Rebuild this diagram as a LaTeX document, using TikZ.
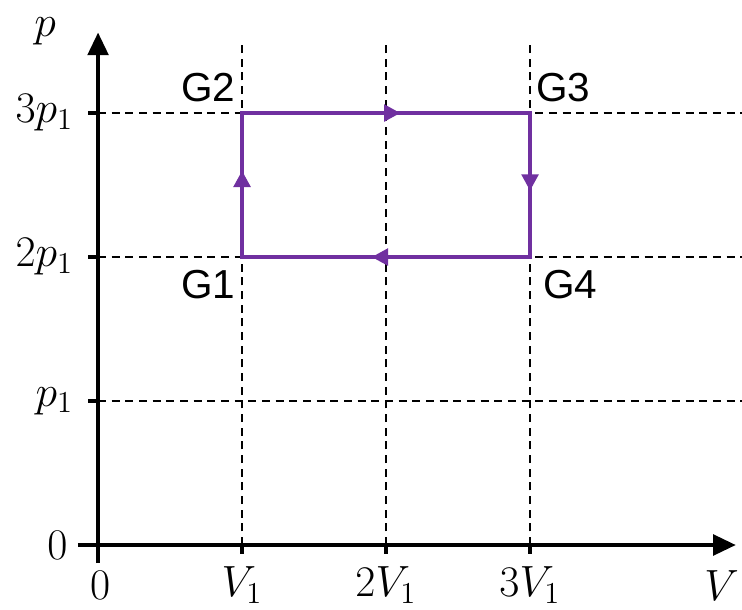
\documentclass[tikz,border=0pt]{standalone}
\usepackage{fontspec}
\setsansfont{Liberation Sans}
\usetikzlibrary{arrows.meta, decorations.markings}
\definecolor{cyclepurple}{HTML}{7030A0}

\begin{document}
\begin{tikzpicture}[
          x=2cm, y=2cm,
          axis/.style={line width=1.8pt, -{Triangle[length=9pt, width=8pt]}},
          tick/.style={line width=1.8pt},
          guide/.style={line width=0.6pt, dash pattern=on 3.2pt off 2.2pt},
          cycle/.style={line width=1.7pt, draw=cyclepurple, line cap=rect},
          midarrow/.style={postaction={decorate}, decoration={markings,
            mark=at position #1 with {\arrow[cyclepurple]{Triangle[length=6.5pt, width=6.5pt]}}}},
          ticklabel/.style={font=\fontsize{18.5}{22}\selectfont},
          statelabel/.style={font=\sffamily\fontsize{16}{19}\selectfont}
        ]
          \useasboundingbox (-0.681,-0.451) rectangle (4.472,3.785);
          % axes
          \coordinate (origin) at (0,0);
          \coordinate (xstart) at (-0.14,0);
          \coordinate (xend) at (4.43,0);
          \coordinate (ystart) at (0,-0.125);
          \coordinate (yend) at (0,3.56);
          % guide lines
          \foreach \i in {1,2,3} {
            \draw[guide] (\i,0) -- (\i,3.47);
            \draw[guide] (0,\i) -- (4.472,\i);
            \draw[tick] (\i,0) -- (\i,-0.06);
            \draw[tick] (0,\i) -- (-0.07,\i);
          }
          \draw[axis] (xstart) -- (xend);
          \draw[axis] (ystart) -- (yend);
          % states
          \coordinate (g1) at (1,2);
          \coordinate (g2) at (1,3);
          \coordinate (g3) at (3,3);
          \coordinate (g4) at (3,2);
          \draw[cycle, midarrow=0.6] (g1) -- (g2);
          \draw[cycle, midarrow=0.55] (g2) -- (g3);
          \draw[cycle, midarrow=0.54] (g3) -- (g4);
          \draw[cycle, midarrow=0.55] (g4) -- (g1);
          \node[statelabel] (lg1) at (0.764,1.806) {G1};
          \node[statelabel] (lg2) at (0.764,3.174) {G2};
          \node[statelabel] (lg3) at (3.229,3.174) {G3};
          \node[statelabel] (lg4) at (3.278,1.806) {G4};
          % axis labels
          \node[ticklabel] (plabel) at (-0.368,3.57) {$p$};
          \node[ticklabel] (vlabel) at (4.33,-0.28) {$V$};
          \node[ticklabel] (x0) at (0.014,-0.28) {$0$};
          \node[ticklabel] (x1) at (1,-0.28) {$V_1$};
          \node[ticklabel] (x2) at (2,-0.28) {$2V_1$};
          \node[ticklabel] (x3) at (3,-0.28) {$3V_1$};
          \node[ticklabel, anchor=east] (y0) at (-0.15,0) {$0$};
          \node[ticklabel, anchor=east] (y1) at (-0.11,1) {$p_1$};
          \node[ticklabel, anchor=east] (y2) at (-0.11,2) {$2p_1$};
          \node[ticklabel, anchor=east] (y3) at (-0.11,3) {$3p_1$};
        \end{tikzpicture}
\end{document}
